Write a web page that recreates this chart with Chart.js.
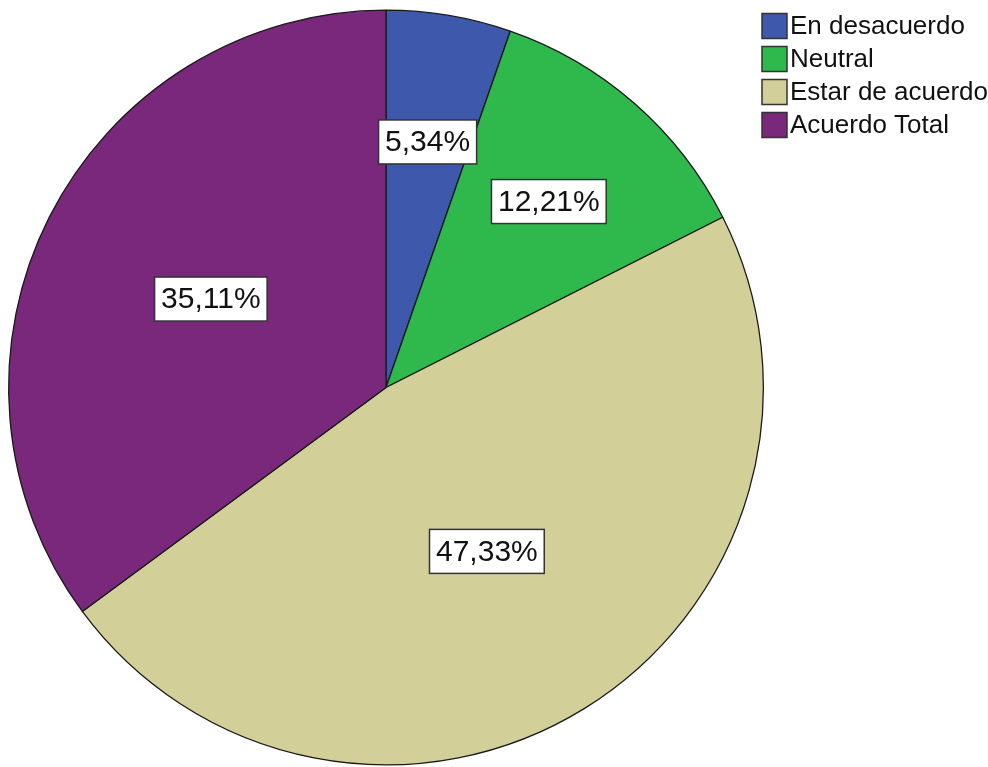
<!DOCTYPE html>
<html>
<head>
<meta charset="utf-8">
<script src="https://cdn.jsdelivr.net/npm/chart.js@4.4.1/dist/chart.umd.min.js"></script>
<style>
  html, body { margin: 0; padding: 0; background: #fff; }
  #wrap { width: 988px; height: 767px; position: relative; }
</style>
</head>
<body>
<div id="wrap"><canvas id="pieChart"></canvas></div>
<script>
// response categories and their share (%)
const categories = ["En desacuerdo", "Neutral", "Estar de acuerdo", "Acuerdo Total"];
const percentages = [5.34, 12.21, 47.33, 35.11];
const sliceColors = ["#3e58ac", "#2fb84b", "#d3cf98", "#79287b"];

// how far out (fraction of radius) each value box sits
const labelRadius = [0.66, 0.655, 0.51, 0.52];

function fmtPct(v) {
  return v.toFixed(2).replace(".", ",") + "%";
}

// boxed percentage labels inside the slices
const boxLabels = {
  id: "boxLabels",
  afterDatasetsDraw(chart) {
    const ctx = chart.ctx;
    const meta = chart.getDatasetMeta(0);
    ctx.save();
    ctx.font = "30px 'Liberation Sans', Arial, sans-serif";
    ctx.textAlign = "center";
    ctx.textBaseline = "middle";
    meta.data.forEach((arc, i) => {
      const p = arc.getProps(["x", "y", "startAngle", "endAngle", "outerRadius"], true);
      const mid = (p.startAngle + p.endAngle) / 2;
      const r = p.outerRadius * labelRadius[i];
      const cx = p.x + Math.cos(mid) * r;
      const cy = p.y + Math.sin(mid) * r;
      const txt = fmtPct(chart.data.datasets[0].data[i]);
      const w = ctx.measureText(txt).width + 13;
      const h = 44;
      ctx.fillStyle = "#fff";
      ctx.fillRect(cx - w / 2, cy - h / 2, w, h);
      ctx.lineWidth = 1.5;
      ctx.strokeStyle = "#333";
      ctx.strokeRect(cx - w / 2, cy - h / 2, w, h);
      ctx.fillStyle = "#111";
      ctx.fillText(txt, cx, cy + 1);
    });
    ctx.restore();
  }
};

// legend in the top-right corner
const cornerLegend = {
  id: "cornerLegend",
  afterDraw(chart) {
    const ctx = chart.ctx;
    const ds = chart.data.datasets[0];
    ctx.save();
    ctx.font = "26px 'Liberation Sans', Arial, sans-serif";
    ctx.textAlign = "left";
    ctx.textBaseline = "middle";
    chart.data.labels.forEach((lab, i) => {
      const y = 26 + i * 33;
      ctx.fillStyle = ds.backgroundColor[i];
      ctx.fillRect(762, y - 12.5, 25, 25);
      ctx.lineWidth = 1.5;
      ctx.strokeStyle = "#333";
      ctx.strokeRect(762, y - 12.5, 25, 25);
      ctx.fillStyle = "#111";
      ctx.fillText(lab, 790, y + 1);
    });
    ctx.restore();
  }
};

const ctx = document.getElementById("pieChart").getContext("2d");
new Chart(ctx, {
  type: "pie",
  data: {
    labels: categories,
    datasets: [{
      data: percentages,
      backgroundColor: sliceColors,
      borderColor: "#1a1a1a",
      borderWidth: 1.3
    }]
  },
  options: {
    responsive: true,
    maintainAspectRatio: false,
    animation: false,
    layout: {
      padding: { left: 8, top: 9, right: 224, bottom: 1 }
    },
    plugins: {
      legend: { display: false },
      tooltip: { enabled: false }
    }
  },
  plugins: [boxLabels, cornerLegend]
});
</script>
</body>
</html>
